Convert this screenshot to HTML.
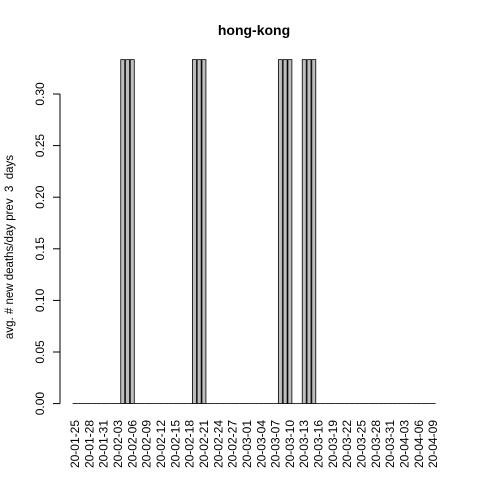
<!DOCTYPE html>
<html><head><meta charset="utf-8"><style>body{margin:0;background:#fff}svg{display:block}</style></head>
<body>
<svg id="chart" width="480" height="480" xmlns="http://www.w3.org/2000/svg" font-family="Liberation Sans, Arial, sans-serif">
<text x="254" y="35" text-anchor="middle" font-weight="bold" font-size="14">hong-kong</text>
<text transform="translate(13,247) rotate(-90)" text-anchor="middle" font-size="11.5" style="white-space:pre" xml:space="preserve">avg. # new deaths/day prev  3  days</text>
<g id="yaxis"></g>
<g id="bars"></g>
<g id="xlabels"></g>
</svg>
<script>
const startDate = "2020-01-25";
const nDays = 76;
const nonZeroIdx = [10,11,12,25,26,27,43,44,45,48,49,50];
const nonZeroVals = [0.3333,0.3333,0.3333,0.3333,0.3333,0.3333,0.3333,0.3333,0.3333,0.3333,0.3333,0.3333];
const yTicks = [0,0.05,0.10,0.15,0.20,0.25,0.30];
const yTickLabels = ["0.00","0.05","0.10","0.15","0.20","0.25","0.30"];

const NS="http://www.w3.org/2000/svg";
const u=3.98, x0=72.2, yBase=403.6, yScale=51.6/0.05;
const xs=i=>x0+(0.2+1.2*i)*u;
const ys=v=>yBase-v*yScale;
const values=new Array(nDays).fill(0);
nonZeroIdx.forEach((idx,k)=>values[idx]=nonZeroVals[k]);

const ya=document.getElementById('yaxis');
let al=document.createElementNS(NS,'line');
al.setAttribute('x1',60);al.setAttribute('x2',60);al.setAttribute('y1',ys(0));al.setAttribute('y2',ys(0.30));al.setAttribute('stroke','#000');


ya.appendChild(al);
yTicks.forEach((t,k)=>{
  const tk=document.createElementNS(NS,'line');
  tk.setAttribute('x1',53);tk.setAttribute('x2',60);tk.setAttribute('y1',ys(t));tk.setAttribute('y2',ys(t));tk.setAttribute('stroke','#000');
  
  
  ya.appendChild(tk);
  const tx=document.createElementNS(NS,'text');
  tx.setAttribute('transform',`translate(44,${ys(t)}) rotate(-90)`);
  tx.setAttribute('text-anchor','middle');tx.setAttribute('font-size','12');
  tx.textContent=yTickLabels[k];
  
  
  ya.appendChild(tx);
});

const bg=document.getElementById('bars');
values.forEach((v,i)=>{
  const r=document.createElementNS(NS,'rect');
  const top=ys(v);
  r.setAttribute('x',xs(i));r.setAttribute('width',u);
  r.setAttribute('y',top);r.setAttribute('height',Math.max(yBase-top,0.01));
  r.setAttribute('fill','#bebebe');r.setAttribute('stroke','#000');r.setAttribute('stroke-width','0.8');
  
  
  bg.appendChild(r);
});

const xl=document.getElementById('xlabels');
const d0=new Date(startDate+"T00:00:00Z");
for(let i=0;i<nDays;i+=3){
  const d=new Date(d0.getTime()+i*86400000);
  const s=String(d.getUTCFullYear()).slice(2)+"-"+String(d.getUTCMonth()+1).padStart(2,'0')+"-"+String(d.getUTCDate()).padStart(2,'0');
  const tx=document.createElementNS(NS,'text');
  const cx=xs(i)+u/2+4;
  tx.setAttribute('transform',`translate(${cx},420) rotate(-90)`);
  tx.setAttribute('text-anchor','end');tx.setAttribute('font-size','12');
  tx.textContent=s;
  
  
  xl.appendChild(tx);
}
</script>
</body></html>
